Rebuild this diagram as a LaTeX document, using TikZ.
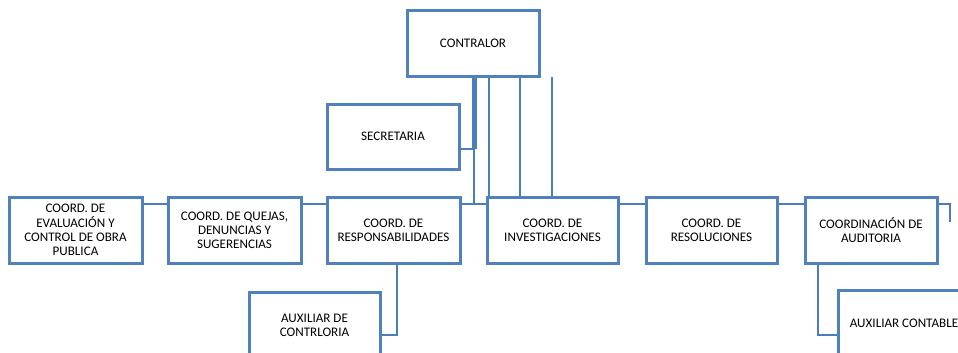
\documentclass[tikz,border=0pt]{standalone}
\usepackage{fontspec}
\setmainfont{Carlito}
\definecolor{boxblue}{RGB}{79,129,189}
\definecolor{lineblue}{RGB}{74,126,187}
\begin{document}
\begin{tikzpicture}[x=1pt,y=-1pt,
  orgbox/.style={draw=boxblue,line width=3pt,fill=white,minimum width=132pt,minimum height=65pt,
    align=center,inner sep=2pt,font=\fontsize{13.1}{14.2}\selectfont},
  conn/.style={draw=lineblue,line width=2.5pt},
  thickconn/.style={draw=lineblue,line width=5pt}]
\useasboundingbox (0,0) rectangle (958,353);
\begin{scope}
\clip (0,0) rectangle (958,353);
\coordinate (j1) at (474,149);
\coordinate (j2) at (474,204);
\coordinate (x1) at (489,0);
\coordinate (x2) at (520,0);
\coordinate (x3) at (552,77);
\coordinate (rt) at (950,222);
\coordinate (d1) at (397,335);
\coordinate (d2) at (818,335);

\node[orgbox] (contralor) at (473,43.5) {CONTRALOR};
\node[orgbox] (secretaria) at (393,136.5) {SECRETARIA};
\node[orgbox,minimum width=133pt,minimum height=66pt] (b1) at (75.5,230) {COORD. DE\\EVALUACIÓN Y\\CONTROL DE OBRA\\PUBLICA};
\node[orgbox,minimum width=133pt,minimum height=66pt] (b2) at (234.5,230) {COORD. DE QUEJAS,\\DENUNCIAS Y\\SUGERENCIAS};
\node[orgbox,minimum width=133pt,minimum height=66pt] (b3) at (393.5,230) {COORD. DE\\RESPONSABILIDADES};
\node[orgbox,minimum width=131pt,minimum height=66pt] (b4) at (552.5,230) {COORD. DE\\INVESTIGACIONES};
\node[orgbox,minimum width=131pt,minimum height=66pt] (b5) at (711.5,230) {COORD. DE\\RESOLUCIONES};
\node[orgbox,minimum width=132pt,minimum height=66pt] (b6) at (871,230) {COORDINACIÓN DE\\AUDITORIA};
\node[orgbox,minimum width=131pt,minimum height=66pt] (aux1) at (314.5,325) {AUXILIAR DE\\CONTRLORIA};
\node[orgbox,minimum width=132pt,minimum height=66pt] (aux2) at (904,323) {AUXILIAR CONTABLE};

\draw[thickconn] (contralor.south -| j1) -- (j1);
\draw[conn] (secretaria.east |- j1) -- (j1) -- (j2);
\draw[conn] (b3.east |- j2) -- (b4.west |- j2);
\draw[conn] (contralor.south -| x1) -- (b4.north -| x1);
\draw[conn] (contralor.south -| x2) -- (b4.north -| x2);
\draw[conn] (x3) -- (b4.north -| x3);
\draw[conn] (b1.east |- j2) -- (b2.west |- j2);
\draw[conn] (b2.east |- j2) -- (b3.west |- j2);
\draw[conn] (b4.east |- j2) -- (b5.west |- j2);
\draw[conn] (b5.east |- j2) -- (b6.west |- j2);
\draw[conn] (b6.east |- j2) -| (rt);
\draw[conn] (b3.south -| d1) -- (d1) -- (aux1.east |- d1);
\draw[conn] (b6.south -| d2) -- (d2) -- (aux2.west |- d2);
\end{scope}
\end{tikzpicture}
\end{document}
